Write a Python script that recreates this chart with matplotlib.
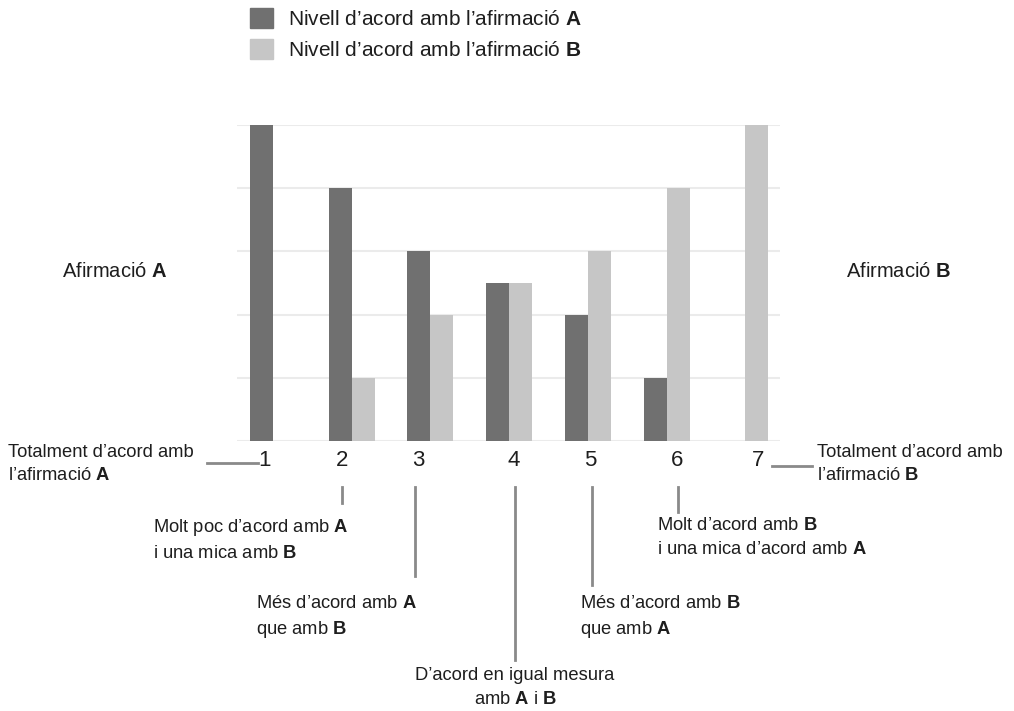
import matplotlib
matplotlib.use("Agg")
import matplotlib.pyplot as plt
import numpy as np
from matplotlib.patches import Patch

FONT = ['Liberation Sans', 'DejaVu Sans']
plt.rcParams['font.family'] = FONT
plt.rcParams['mathtext.fontset'] = 'custom'
plt.rcParams['mathtext.rm'] = 'Liberation Sans'
plt.rcParams['mathtext.bf'] = 'Liberation Sans:bold'

categories = [1, 2, 3, 4, 5, 6, 7]
values_A = [5, 4, 3, 2.5, 2, 1, 0]
values_B = [0, 1, 2, 2.5, 3, 4, 5]
legend_labels = ["Nivell d’acord amb l’afirmació $\\mathbf{A}$",
                 "Nivell d’acord amb l’afirmació $\\mathbf{B}$"]
side_labels = ["Afirmació $\\mathbf{A}$", "Afirmació $\\mathbf{B}$"]
point_labels = [
    "Totalment d’acord amb\nl’afirmació $\\mathbf{A}$",
    "Molt poc d’acord amb $\\mathbf{A}$\ni una mica amb $\\mathbf{B}$",
    "Més d’acord amb $\\mathbf{A}$\nque amb $\\mathbf{B}$",
    "D’acord en igual mesura\namb $\\mathbf{A}$ i $\\mathbf{B}$",
    "Més d’acord amb $\\mathbf{B}$\nque amb $\\mathbf{A}$",
    "Molt d’acord amb $\\mathbf{B}$\ni una mica d’acord amb $\\mathbf{A}$",
    "Totalment d’acord amb\nl’afirmació $\\mathbf{B}$",
]

COL_A = '#707070'
COL_B = '#c6c6c6'
LEAD = '#8a8a8a'
TXT = '#1e1e1e'
W, H = 1014, 711

fig = plt.figure(figsize=(W / 100, H / 100), dpi=100)
ax = fig.add_axes([237 / W, 1 - 441 / H, (780 - 237) / W, (441 - 125) / H])

x = np.array(categories, dtype=float)
bw = 0.292
ax.bar(x - bw / 2, values_A, bw, color=COL_A, zorder=3, clip_on=False)
ax.bar(x + bw / 2, values_B, bw, color=COL_B, zorder=3, clip_on=False)
ax.set_xlim(0.543, 7.44)
ax.set_ylim(0, 5)
ax.set_yticks([0, 1, 2, 3, 4, 5])
ax.grid(axis='y', color='#ebebeb', linewidth=1.5, zorder=0)
for s in ax.spines.values():
    s.set_visible(False)
ax.tick_params(left=False, bottom=False, labelleft=False, labelbottom=False)


def px(xp, yp):
    return (xp / W, 1 - yp / H)


# tick labels
tick_px = [265, 342, 418, 514, 590, 677, 758]
for c, tx in zip(categories, tick_px):
    fig.text(*px(tx, 461), str(c), ha='center', va='center', fontsize=16, color=TXT)

fs = 13.2


def line(x0, y0, x1, y1):
    fig.add_artist(plt.Line2D([x0 / W, x1 / W], [1 - y0 / H, 1 - y1 / H],
                              color=LEAD, linewidth=2, transform=fig.transFigure))


line(207, 463, 258, 463)
line(342, 487, 342, 503)
line(415, 487, 415, 576)
line(515, 487, 515, 660)
line(592, 487, 592, 585)
line(678, 487, 678, 512)
line(772, 466, 812, 466)

txtkw = dict(fontsize=fs, color=TXT, va='top', linespacing=1.5)
fig.text(*px(8, 444), point_labels[0], ha='left', **txtkw)
fig.text(*px(153, 517), point_labels[1], ha='left', **txtkw)
fig.text(*px(256, 595), point_labels[2], ha='left', **txtkw)
fig.text(*px(515, 667), point_labels[3], ha='center', multialignment='center', **txtkw)
fig.text(*px(580, 595), point_labels[4], ha='left', **txtkw)
fig.text(*px(657, 517), point_labels[5], ha='left', **txtkw)
fig.text(*px(817, 444), point_labels[6], ha='left', **txtkw)

fig.text(*px(62, 271), side_labels[0], ha='left', va='center', fontsize=14.5, color=TXT)
fig.text(*px(846, 271), side_labels[1], ha='left', va='center', fontsize=14.5, color=TXT)

handles = [Patch(color=COL_A), Patch(color=COL_B)]
fig.legend(handles, legend_labels, loc='upper left', bbox_to_anchor=(250 / W, 1 - 8 / H),
           frameon=False, fontsize=15, handlelength=1.1, handleheight=1.1,
           handletextpad=0.7, labelspacing=0.48, labelcolor=TXT,
           borderpad=0, borderaxespad=0)

fig.savefig('out.png', dpi=100)
